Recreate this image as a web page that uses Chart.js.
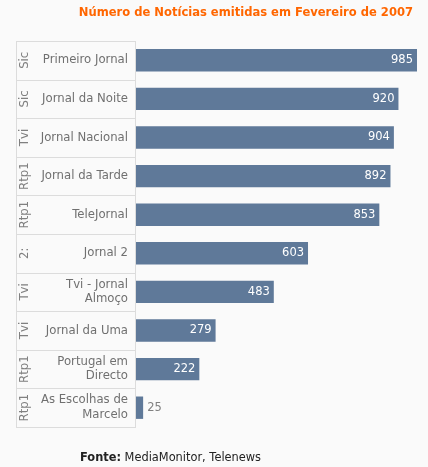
<!DOCTYPE html>
<html>
<head>
<meta charset="utf-8">
<script src="https://cdn.jsdelivr.net/npm/chart.js@4"></script>
<style>
  html, body { margin: 0; padding: 0; background: #fafafa; }
  #wrap { position: relative; width: 428px; height: 467px; }
  #title { position: absolute; right: 15px; top: 5px; font: bold 11.55px "DejaVu Sans", Verdana, sans-serif; color: #ff6600; white-space: nowrap; }
  #source { position: absolute; left: 80px; top: 450px; font: 11.4px "DejaVu Sans", Verdana, sans-serif; color: #222; white-space: nowrap; }
</style>
</head>
<body>
<div id="wrap">
  <canvas id="myChart" width="428" height="467"></canvas>
  <div id="title">Número de Notícias emitidas em Fevereiro de 2007</div>
  <div id="source"><b>Fonte:</b> MediaMonitor, Telenews</div>
</div>
<script>
// programmes, their channel and number of news items
var programas = ["Primeiro Jornal", "Jornal da Noite", "Jornal Nacional", "Jornal da Tarde", "TeleJornal",
	"Jornal 2", ["Tvi - Jornal", "Almoço"], "Jornal da Uma", ["Portugal em", "Directo"], ["As Escolhas de", "Marcelo"]];
var canais = ["Sic", "Sic", "Tvi", "Rtp1", "Rtp1", "2:", "Tvi", "Tvi", "Rtp1", "Rtp1"];
var noticias = [985, 920, 904, 892, 853, 603, 483, 279, 222, 25];

var fontName = '"DejaVu Sans", Verdana, sans-serif';

// left table (lines + channel names) and the value labels
var tablePlugin = {
	id: "table",
	afterDraw: function(chart) {
		var ctx = chart.ctx;
		var yScale = chart.scales.y;
		var area = chart.chartArea;
		var left = 16;
		var right = area.left - 1;
		var step = (area.bottom - area.top) / programas.length;
		ctx.save();
		ctx.strokeStyle = "#dcdcdc";
		ctx.lineWidth = 1;
		ctx.beginPath();
		ctx.moveTo(left + 0.5, area.top);
		ctx.lineTo(left + 0.5, area.bottom);
		ctx.moveTo(right + 0.5, area.top);
		ctx.lineTo(right + 0.5, area.bottom);
		for (var i = 0; i <= programas.length; i++) {
			var y = Math.round(area.top + i * step) + 0.5;
			ctx.moveTo(left, y);
			ctx.lineTo(right + 1, y);
		}
		ctx.stroke();

		ctx.fillStyle = "#808080";
		ctx.font = "11.7px " + fontName;
		ctx.textAlign = "center";
		ctx.textBaseline = "middle";
		for (var j = 0; j < canais.length; j++) {
			var cy = yScale.getPixelForValue(j);
			ctx.save();
			ctx.translate(25, cy);
			ctx.rotate(-Math.PI / 2);
			ctx.fillText(canais[j], 0, 0);
			ctx.restore();
		}

		var meta = chart.getDatasetMeta(0);
		ctx.font = "11.5px " + fontName;
		ctx.textBaseline = "middle";
		meta.data.forEach(function(bar, k) {
			var txt = String(noticias[k]);
			var w = bar.x - bar.base;
			if (w > 40) {
				ctx.fillStyle = "#ffffff";
				ctx.textAlign = "right";
				ctx.fillText(txt, bar.x - 4, bar.y);
			} else {
				ctx.fillStyle = "#808080";
				ctx.textAlign = "left";
				ctx.fillText(txt, bar.x + 4, bar.y);
			}
		});
		ctx.restore();
	}
};

new Chart("myChart", {
	type: "bar",
	data: {
		labels: programas,
		datasets: [{
			data: noticias,
			backgroundColor: "#5f7999",
			borderWidth: 0,
			barPercentage: 0.58,
			categoryPercentage: 1
		}]
	},
	options: {
		indexAxis: "y",
		responsive: false,
		animation: false,
		layout: { padding: { top: 41, bottom: 40, right: 11, left: 0 } },
		plugins: {
			legend: { display: false },
			tooltip: { enabled: false }
		},
		scales: {
			x: {
				display: false,
				min: 0,
				max: 985
			},
			y: {
				afterFit: function(scale) { scale.width = 136; },
				border: { display: false },
				grid: { display: false, drawTicks: false },
				ticks: {
					padding: 8,
					color: "#707070",
					font: { family: fontName, size: 11.7, lineHeight: 1.25 }
				}
			}
		}
	},
	plugins: [tablePlugin]
});
</script>
</body>
</html>
